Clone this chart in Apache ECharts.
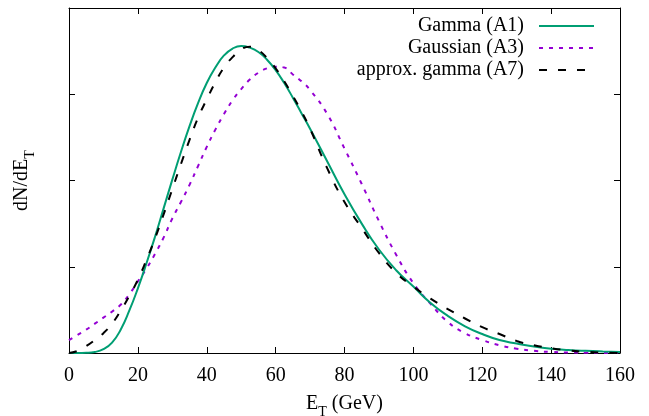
<!DOCTYPE html>
<html>
<head>
<meta charset="utf-8">
<title>dN/dE_T</title>
<script src="https://cdn.jsdelivr.net/npm/echarts@6/dist/echarts.min.js"></script>
<style>
  html, body { margin: 0; padding: 0; background: #fff; }
  #chart { width: 649px; height: 416px; }
</style>
</head>
<body>
<div id="chart"></div>
<script>
// E_T in GeV
var energy = [0, 2.5, 5, 7.5, 10, 12.5, 15, 17.5, 20, 22.5, 25, 27.5, 30, 32.5, 35, 37.5,
  40, 42.5, 45, 47.5, 50, 52.5, 55, 57.5, 60, 62.5, 65, 67.5, 70, 75, 80, 85, 90, 95,
  100, 105, 110, 115, 120, 125, 130, 135, 140, 145, 150, 155, 160]

// Gamma (A1)
var gammaA1 = [0, 0, 0.002, 0.012, 0.045, 0.12, 0.27, 0.49, 0.75, 1.04, 1.35, 1.68, 2.01, 2.33, 2.63, 2.90,
  3.13, 3.31, 3.45, 3.53, 3.56, 3.54, 3.49, 3.40, 3.28, 3.13, 2.96, 2.78, 2.60, 2.22, 1.84, 1.50, 1.20, 0.96,
  0.77, 0.58, 0.43, 0.31, 0.22, 0.15, 0.11, 0.075, 0.05, 0.035, 0.025, 0.018, 0.013]

// Gaussian (A3)
var gaussA3 = [0.15, 0.21, 0.27, 0.34, 0.41, 0.48, 0.56, 0.68, 0.83, 0.98, 1.15, 1.34, 1.56, 1.75, 1.95, 2.17,
  2.39, 2.59, 2.77, 2.93, 3.06, 3.17, 3.25, 3.30, 3.32, 3.31, 3.23, 3.15, 3.05, 2.77, 2.37, 1.96, 1.53, 1.14,
  0.81, 0.57, 0.36, 0.23, 0.15, 0.09, 0.05, 0.025, 0.012, 0.006, 0.003, 0.001, 0]

// approx. gamma (A7)
var approxA7 = [0, 0.025, 0.08, 0.15, 0.23, 0.34, 0.49, 0.66, 0.85, 1.08, 1.33, 1.61, 1.90, 2.19, 2.47, 2.73,
  2.94, 3.14, 3.31, 3.43, 3.52, 3.55, 3.51, 3.42, 3.30, 3.15, 2.98, 2.80, 2.60, 2.14, 1.75, 1.45, 1.16, 0.93,
  0.77, 0.63, 0.51, 0.40, 0.30, 0.22, 0.14, 0.09, 0.055, 0.03, 0.014, 0.005, 0.001]

var xTicks = { min: 0, max: 160, interval: 20 }
var yTicks = { min: 0, max: 4, interval: 1 }

var serif = "'Liberation Serif', 'DejaVu Serif', 'Times New Roman', serif"

function pairs(ys) {
  return energy.map(function (x, i) { return [x, ys[i]] })
}

var subRich = {
  a: { fontFamily: serif, fontSize: 20, color: '#000', lineHeight: 30 },
  s: { fontFamily: serif, fontSize: 14, color: '#000', lineHeight: 16, verticalAlign: 'bottom' }
}

function frameAxis(pos, range, extra) {
  var ax = {
    type: 'value',
    position: pos,
    min: range.min,
    max: range.max,
    interval: range.interval,
    axisLine: { show: true, onZero: false, lineStyle: { color: '#000', width: 1 } },
    axisTick: { show: true, inside: true, length: 6, lineStyle: { color: '#000', width: 1 } },
    axisLabel: { show: false },
    splitLine: { show: false }
  }
  return Object.assign(ax, extra || {})
}

var chart = echarts.init(document.getElementById('chart'))

chart.setOption({
  animation: false,
  backgroundColor: '#fff',
  grid: { left: 69, right: 29, top: 8, bottom: 63, outerBoundsMode: 'none', containLabel: false },
  legend: {
    orient: 'vertical',
    right: 49,
    top: 11,
    align: 'right',
    itemWidth: 55,
    itemHeight: 14,
    itemGap: 2,
    itemStyle: { opacity: 0 },
    textStyle: { fontFamily: serif, fontSize: 20, color: '#000', padding: [0, 10, 0, 0] },
    data: ['Gamma (A1)', 'Gaussian (A3)', 'approx. gamma (A7)']
  },
  xAxis: [
    frameAxis('bottom', xTicks, {
      axisLabel: { show: true, fontFamily: serif, fontSize: 20, color: '#000', margin: 13 },
      name: '{a|E}{s|T}{a| (GeV)}',
      nameLocation: 'middle',
      nameGap: 36,
      nameTextStyle: { rich: subRich }
    }),
    frameAxis('top', xTicks)
  ],
  yAxis: [
    frameAxis('left', yTicks, {
      name: '{a|dN/dE}{s|T}',
      nameLocation: 'middle',
      nameGap: 32,
      nameTextStyle: { rich: subRich }
    }),
    frameAxis('right', yTicks)
  ],
  series: [
    {
      name: 'Gamma (A1)',
      type: 'line',
      smooth: true,
      symbol: 'none',
      lineStyle: { color: '#009e73', width: 2 },
      itemStyle: { color: '#009e73' },
      data: pairs(gammaA1),
      z: 3
    },
    {
      name: 'Gaussian (A3)',
      type: 'line',
      smooth: true,
      symbol: 'none',
      lineStyle: { color: '#9400d3', width: 2, type: [4, 6] },
      itemStyle: { color: '#9400d3' },
      data: pairs(gaussA3),
      z: 2
    },
    {
      name: 'approx. gamma (A7)',
      type: 'line',
      smooth: true,
      symbol: 'none',
      lineStyle: { color: '#000', width: 2, type: [8, 11] },
      itemStyle: { color: '#000' },
      data: pairs(approxA7),
      z: 4
    }
  ]
})
</script>
</body>
</html>
